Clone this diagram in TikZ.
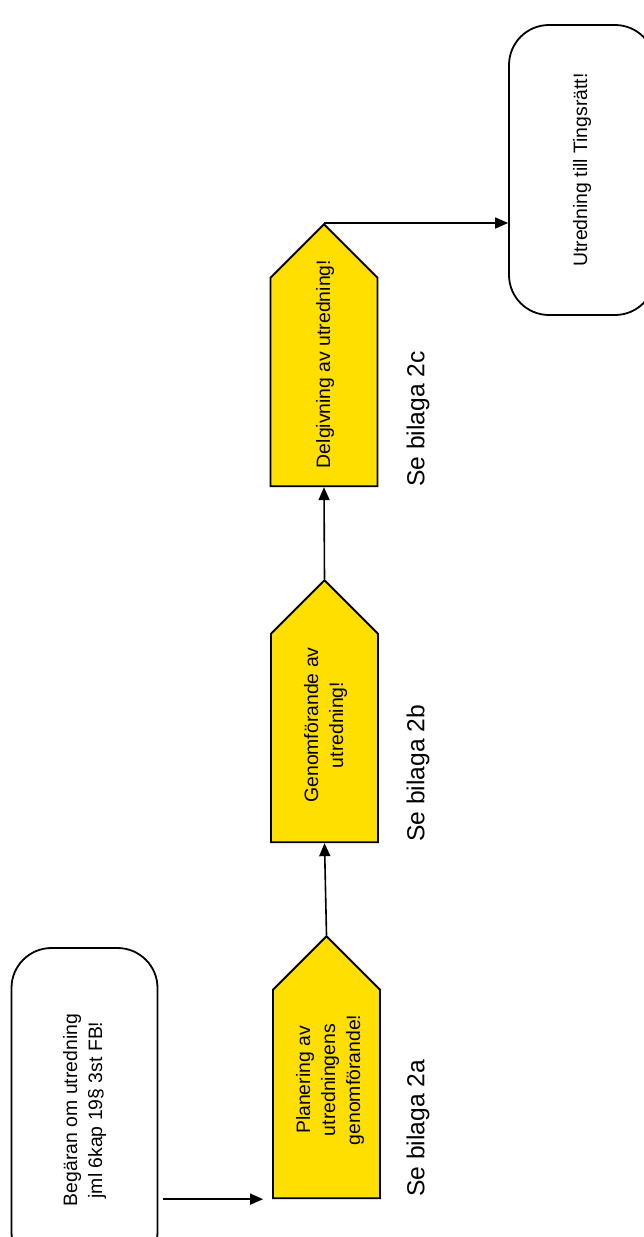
\documentclass[tikz,border=0pt]{standalone}
\usepackage{fontspec}
\setmainfont{Liberation Sans}
\usetikzlibrary{calc}
\usetikzlibrary{shapes.symbols,arrows.meta}
\definecolor{gul}{HTML}{FFDF00}
\tikzset{
	steg/.style={shape=signal, signal to=east, signal pointer angle=90, draw, line width=1.8pt, fill=gul, rotate=90, minimum width=262pt, minimum height=107pt, inner sep=0pt},
	stegtext/.style={rotate=90, align=center, inner sep=0pt, font=\fontsize{19.4}{25}\selectfont},
	slut/.style={draw, line width=1.8pt, rounded corners=40pt, rotate=90, minimum height=146pt, align=center, font=\fontsize{19.4}{25}\selectfont},
	bilaga/.style={rotate=90, anchor=west, inner sep=0pt, font=\fontsize{24.6}{28}\selectfont},
	pil/.style={line width=1.6pt, -{Triangle[length=13pt,width=11pt]}}
}

\begin{document}
\begin{tikzpicture}[x=1pt,y=-1pt]
			\useasboundingbox (0,0) rectangle (643,1237);
			%start och slut
			\node[slut, minimum width=324pt] (beg) at (84.5,1110) {Beg\"aran om utredning\\jml 6kap 19\S{} 3st FB!};
			\node[slut, minimum width=290pt] (ut) at (582,170) {Utredning till Tingsr\"att!};
			%stegen
			\node[steg] (plan) at (326.5,1094) {};
			\node[steg] (gen) at (324.5,738) {};
			\node[steg] (delg) at (324,382) {};
			\node[stegtext] (plantext) at (330,1080) {Planering av\\utredningens\\genomf\"orande!};
			\node[stegtext] (gentext) at (325.5,725) {Genomf\"orande av\\utredning!};
			\node[stegtext] (delgtext) at (325,364) {Delgivning av utredning!};
			%bilagor
			\node[bilaga] (bil2a) at (418,1197) {Se bilaga 2a};
			\node[bilaga] (bil2b) at (418,842) {Se bilaga 2b};
			\node[bilaga] (bil2c) at (418,487) {Se bilaga 2c};
			%pilar
			\draw[pil, shorten <=5pt, shorten >=9pt] (beg.south |- plan.north west) -- (plan.north west);
			\draw[pil] (plan.east) -- (gen.west);
			\draw[pil] (gen.east) -- (delg.west);
			\draw[pil] (delg.east) -- (delg.east -| ut.north);
\end{tikzpicture}
\end{document}
